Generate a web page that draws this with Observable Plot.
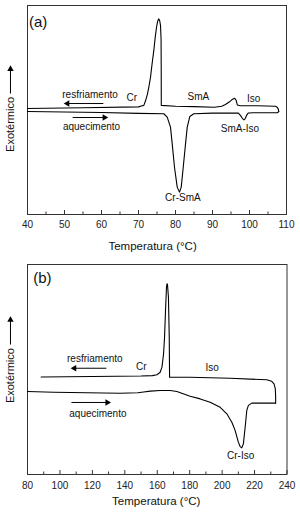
<!DOCTYPE html>
<html>
<head>
<meta charset="utf-8">
<script src="https://cdn.jsdelivr.net/npm/d3@7"></script>
<script src="https://cdn.jsdelivr.net/npm/@observablehq/plot@0.6"></script>
<style>
  html, body { margin: 0; padding: 0; background: #fff; overflow: hidden; }
  #chart svg { display: block; }
</style>
</head>
<body>
<div id="chart"></div>
<script>
// ---------- Panel (a) data: [Temperature °C, heat flow (a.u., up = exothermic)] ----------
const coolingA = [
  [40, 50.7], [55, 51.1], [70, 51.5], [71.0, 52.0], [71.44, 52.2], [71.9, 54.4], [72.4, 57.5],
  [72.79, 60.9], [73.25, 65.7], [73.7, 72.5], [74.14, 78.5], [74.5, 84.5], [74.87, 89.6],
  [75.2, 92.6], [75.49, 93.6], [75.75, 92.6], [75.95, 90.4], [76.1, 84], [76.14, 70], [76.16, 52.2],
  [80, 51.8], [85, 51.6], [90.5, 51.3], [92.5, 51.8], [93.5, 52.6], [94.5, 53.8], [95.3, 55.0],
  [96.0, 55.6], [96.4, 54.6], [96.7, 52.4], [97.5, 52.0], [102, 52.0], [107, 51.8],
  [107.5, 51.3], [107.8, 50.3], [107.9, 49.2]
];
const heatingA = [
  [107.9, 49.2], [107.5, 48.7], [101, 48.7], [99.7, 48.6], [99.2, 47.4], [98.8, 45.8],
  [98.5, 45.3], [98.1, 45.9], [97.6, 47.3], [97.0, 48.5], [90, 48.5], [84.95, 48.2],
  [83.87, 46.9], [83.17, 41.8], [82.71, 33.8], [82.09, 22.6], [81.55, 13.1], [81.08, 10.7],
  [80.46, 13.1], [79.73, 22.6], [79.11, 33.8], [78.65, 41.8], [77.76, 46.6], [76.84, 48.2],
  [70, 48.4], [60, 48.8], [40, 49.3]
];
const ticksA = [40, 50, 60, 70, 80, 90, 100, 110];
const minorTicksA = [45, 55, 65, 75, 85, 95, 105];
const labelsA = [
  {x: 56.9, y: 57.5, text: "resfriamento"},
  {x: 68.2, y: 55.6, text: "Cr"},
  {x: 86.2, y: 56.1, text: "SmA"},
  {x: 101.1, y: 55.4, text: "Iso"},
  {x: 57.3, y: 42.2, text: "aquecimento"},
  {x: 97.4, y: 41.2, text: "SmA-Iso"},
  {x: 82.0, y: 7.8, text: "Cr-SmA"}
];
const arrowsA = [
  {x1: 60.5, y1: 53.1, x2: 50.8, y2: 53.1},
  {x1: 52.2, y1: 46.4, x2: 60.8, y2: 46.4},
  {x1: 35.4, y1: 57.9, x2: 35.4, y2: 69.6}
];
const panelLabelA = [{x: 40.4, y: 92.2, text: "(a)"}];
const xTitleA = [{x: 73.8, y: -15.0, text: "Temperatura (°C)"}];
const yTitleA = [{x: 35.4, y: 43.1, text: "Exotérmico"}];

// ---------- Panel (b) data ----------
const coolingB = [
  [88.4, 46.4], [120, 46.7], [150, 46.9], [157, 47.1], [159.8, 47.5], [161.8, 48.7],
  [162.9, 51.1], [163.9, 57.5], [164.5, 65.4], [165.1, 78.1], [165.7, 89.2], [166.0, 90.8],
  [166.3, 90.6], [166.9, 84.4], [167.4, 65.4], [167.6, 46.3], [180, 46.3], [205, 45.8],
  [227.5, 45.1], [230.6, 44.4], [232.0, 43.2], [232.8, 40.8], [233.0, 36.8], [233.0, 34.0]
];
const heatingB = [
  [233.0, 34.0], [218.3, 34.0], [216.2, 32.9], [215.2, 30.5], [214.2, 22.5], [213.1, 14.6],
  [212.1, 12.7], [211.1, 13.3], [210.0, 15.4], [208.0, 21.0], [206.0, 24.9], [202.9, 28.9],
  [198.8, 32.0], [192.6, 34.4], [186.5, 36.0], [180.3, 37.3], [172.1, 39.5], [168.0, 40.0],
  [161.8, 40.0], [155.7, 39.7], [151.6, 39.3], [148, 38.9], [137.2, 38.7], [116.7, 38.9],
  [96.2, 39.2], [80, 39.5]
];
const ticksB = [80, 100, 120, 140, 160, 180, 200, 220, 240];
const minorTicksB = [90, 110, 130, 150, 170, 190, 210, 230];
const labelsB = [
  {x: 121.5, y: 54.9, text: "resfriamento"},
  {x: 150.2, y: 51.5, text: "Cr"},
  {x: 193.8, y: 50.6, text: "Iso"},
  {x: 123.4, y: 29.1, text: "aquecimento"},
  {x: 211.4, y: 8.7, text: "Cr-Iso"}
];
const arrowsB = [
  {x1: 128.6, y1: 50.6, x2: 108.9, y2: 50.6},
  {x1: 107.1, y1: 34.3, x2: 129.2, y2: 34.3},
  {x1: 69.5, y1: 61.9, x2: 69.5, y2: 73.6}
];
const panelLabelB = [{x: 83.5, y: 93.4, text: "(b)"}];
const xTitleB = [{x: 159.4, y: -13.0, text: "Temperatura (°C)"}];
const yTitleB = [{x: 69.5, y: 47.1, text: "Exotérmico"}];

const FONT = "'Liberation Sans', Arial, Helvetica, sans-serif";
const AX = "#333";

function panel(o) {
  const frameH = 256 - o.mt - o.mb;
  return Plot.plot({
    width: 300,
    height: 256,
    marginLeft: 27,
    marginRight: o.mr,
    marginTop: o.mt,
    marginBottom: o.mb,
    x: {domain: o.domain},
    y: {domain: [0, 100], axis: null},
    style: {fontFamily: FONT, background: "white", color: "#111"},
    marks: [
      Plot.frame({stroke: AX, strokeWidth: 1}),
      Plot.tickX(o.ticks, {x: d => d, insetTop: frameH - 4, stroke: AX}),
      Plot.tickX(o.minor, {x: d => d, insetTop: frameH - 2.5, stroke: AX}),
      Plot.axisX(o.ticks, {tickSize: 0, tickPadding: o.pad, fontSize: 10, label: null, fill: "#222"}),
      Plot.line(o.cooling, {x: d => d[0], y: d => d[1], stroke: "#000", strokeWidth: 1.1}),
      Plot.line(o.heating, {x: d => d[0], y: d => d[1], stroke: "#000", strokeWidth: 1.1}),
      Plot.link(o.arrows, {x1: "x1", x2: "x2", y1: "y1", y2: "y2", stroke: "#000", strokeWidth: 1}),
      Plot.dot(o.arrows, {x: "x2", y: "y2", symbol: "triangle", r: 2.4, fill: "#000",
        rotate: d => (d.y2 > d.y1 ? 0 : d.x2 > d.x1 ? 90 : -90)}),
      Plot.text(o.labels, {x: "x", y: "y", text: "text", fontSize: 10, fill: "#111"}),
      Plot.text(o.panelLabel, {x: "x", y: "y", text: "text", fontSize: 15, textAnchor: "start", fill: "#111"}),
      Plot.text(o.xTitle, {x: "x", y: "y", text: "text", fontSize: 11.5, fill: "#111"}),
      Plot.text(o.yTitle, {x: "x", y: "y", text: "text", rotate: -90, fontSize: 11, fill: "#111"})
    ]
  });
}

const chart = document.getElementById("chart");
chart.append(panel({
  domain: [40, 110], mt: 5, mb: 42, mr: 14, pad: 6.5,
  ticks: ticksA, minor: minorTicksA, cooling: coolingA, heating: heatingA,
  labels: labelsA, arrows: arrowsA, panelLabel: panelLabelA, xTitle: xTitleA, yTitle: yTitleA
}));
chart.append(panel({
  domain: [80, 240], mt: 8, mb: 38, mr: 13.5, pad: 7.8,
  ticks: ticksB, minor: minorTicksB, cooling: coolingB, heating: heatingB,
  labels: labelsB, arrows: arrowsB, panelLabel: panelLabelB, xTitle: xTitleB, yTitle: yTitleB
}));
</script>
</body>
</html>
